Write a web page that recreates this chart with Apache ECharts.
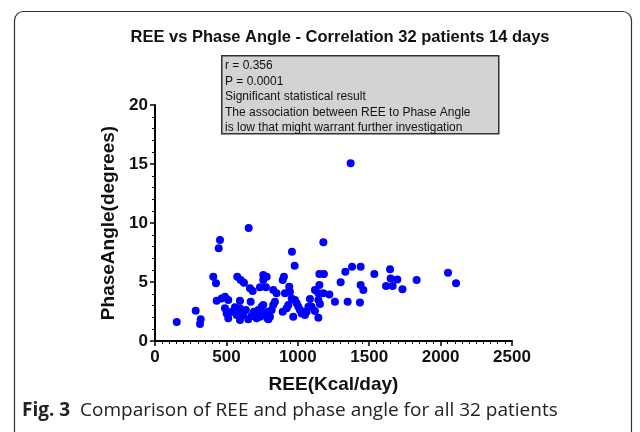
<!DOCTYPE html>
<html><head><meta charset="utf-8">
<script src="https://cdn.jsdelivr.net/npm/echarts@6/dist/echarts.min.js"></script>
<style>html,body{margin:0;padding:0;background:#fff}#c{width:640px;height:432px}</style>
</head><body><div id="c"></div>
<script>
const titleText = 'REE vs Phase Angle - Correlation 32 patients 14 days';
const xAxisName = 'REE(Kcal/day)';
const yAxisName = 'PhaseAngle(degrees)';
const annotationLines = ['r = 0.356','P = 0.0001','Significant statistical result','The association between REE to Phase Angle','is low that might warrant further investigation'];
const captionBold = 'Fig. 3';
const captionText = 'Comparison of REE and phase angle for all 32 patients';
const xTicks = [0, 500, 1000, 1500, 2000, 2500];
const yTicks = [0, 5, 10, 15, 20];
const reeValues = [152,285,320,315,408,427,446,455,656,432,467,490,513,490,502,513,537,560,572,595,595,595,618,637,653,670,677,693,712,724,735,747,763,787,794,576,600,623,665,684,735,777,758,782,758,903,894,959,978,1179,1151,1183,1151,1120,1144,1179,1221,1333,1380,1440,1300,1440,1459,1260,1349,1435,1144,1155,1120,1144,1085,1074,1062,828,851,910,940,945,957,980,992,1004,1015,1027,1039,1050,968,934,922,840,828,817,805,794,894,758,747,1370,1536,1646,1650,1697,1618,1664,1733,1832,2052,2108,1097];
const phaseAngleValues = [1.6,2.57,1.84,1.44,5.45,4.89,7.85,8.56,9.58,3.42,3.6,3.75,3.47,2.77,2.34,1.92,2.48,2.85,2.2,3.42,2.77,1.78,2.2,2.63,1.84,3.33,2.12,2.48,1.92,2.63,2.06,2.9,2.34,1.92,2.48,5.45,5.17,4.94,4.46,4.24,4.55,4.55,5.6,5.45,5.17,5.45,5.17,7.57,6.38,8.36,5.68,5.68,4.75,4.32,4.04,4.04,3.95,5.87,6.3,6.3,4.97,4.75,4.32,3.33,3.33,3.27,3.47,3.14,2.54,1.97,3.56,2.9,2.48,4.32,4.04,4.04,4.6,4.18,3.6,3.47,3.19,2.9,2.63,2.34,2.48,2.2,2.06,3.05,2.77,3.33,3.05,2.63,2.06,1.84,2.48,3.05,2.2,15.06,5.68,6.07,5.3,5.22,4.66,4.66,4.38,5.17,5.79,4.89,2.9];

const points = reeValues.map((x, i) => [x, phaseAngleValues[i]]);
const chart = echarts.init(document.getElementById('c'), null, {renderer: 'canvas'});
const F = '"Liberation Sans", Arial, sans-serif';
chart.setOption({
  animation: false,
  backgroundColor: '#fff',
  title: {
    text: titleText, left: 335, top: 24, textAlign: 'center',
    textStyle: {fontFamily: F, fontWeight: 'bold', fontSize: 16.5, color: '#111'}
  },
  grid: {left: 155, right: 128, top: 105, bottom: 91},
  xAxis: {
    type: 'value', min: 0, max: 2500, interval: 500,
    name: xAxisName, nameLocation: 'middle', nameGap: 34,
    nameTextStyle: {fontFamily: F, fontWeight: 'bold', fontSize: 19, color: '#111'},
    axisLine: {show: true, onZero: false, lineStyle: {color: '#000', width: 2}},
    axisTick: {show: true, length: 5, inside: false, lineStyle: {color: '#000', width: 1.5}},
    minorTick: {show: true, splitNumber: 10, length: 3, lineStyle: {color: '#000', width: 1}},
    splitLine: {show: false},
    axisLabel: {fontFamily: F, fontWeight: 'bold', fontSize: 17, color: '#111', margin: 8,
      formatter: v => xTicks.includes(v) ? String(v) : ''}
  },
  yAxis: {
    type: 'value', min: 0, max: 20, interval: 5,
    name: yAxisName, nameLocation: 'middle', nameGap: 34, nameRotate: 90,
    nameTextStyle: {fontFamily: F, fontWeight: 'bold', fontSize: 19, color: '#111'},
    axisLine: {show: true, onZero: false, lineStyle: {color: '#000', width: 2}},
    axisTick: {show: true, length: 5, inside: false, lineStyle: {color: '#000', width: 1.5}},
    minorTick: {show: true, splitNumber: 5, length: 3, lineStyle: {color: '#000', width: 1}},
    splitLine: {show: false},
    axisLabel: {fontFamily: F, fontWeight: 'bold', fontSize: 17, color: '#111', margin: 7,
      formatter: v => yTicks.includes(v) ? String(v) : ''}
  },
  series: [{
    type: 'scatter', data: points, symbol: 'circle', symbolSize: 8,
    itemStyle: {color: '#0000ff', opacity: 1}
  }],
  graphic: [
    {type: 'rect', left: 12, top: 9, shape: {width: 617, height: 460, r: 9},
      style: {fill: 'none', stroke: '#333', lineWidth: 1.2}, z: -1},
    {type: 'rect', left: 221, top: 55, shape: {width: 277, height: 78},
      style: {fill: '#d3d3d3', stroke: '#333', lineWidth: 1.5}, z: 5},
    {type: 'text', left: 225, top: 58, z: 6,
      style: {text: annotationLines.join('\n'), font: '12px "Liberation Sans", Arial, sans-serif', fill: '#111', lineHeight: 15.5}},
    {type: 'text', left: 22, top: 401, z: 6,
      style: {rich: {b: {fontFamily: '"Open Sans", sans-serif', fontWeight: 'bold', fontSize: 19, fill: '#222'},
                     n: {fontFamily: '"Open Sans", sans-serif', fontSize: 19, fill: '#222'}},
              text: '{b|' + captionBold + '}{n|  ' + captionText + '}'}}
  ]
});
</script></body></html>
